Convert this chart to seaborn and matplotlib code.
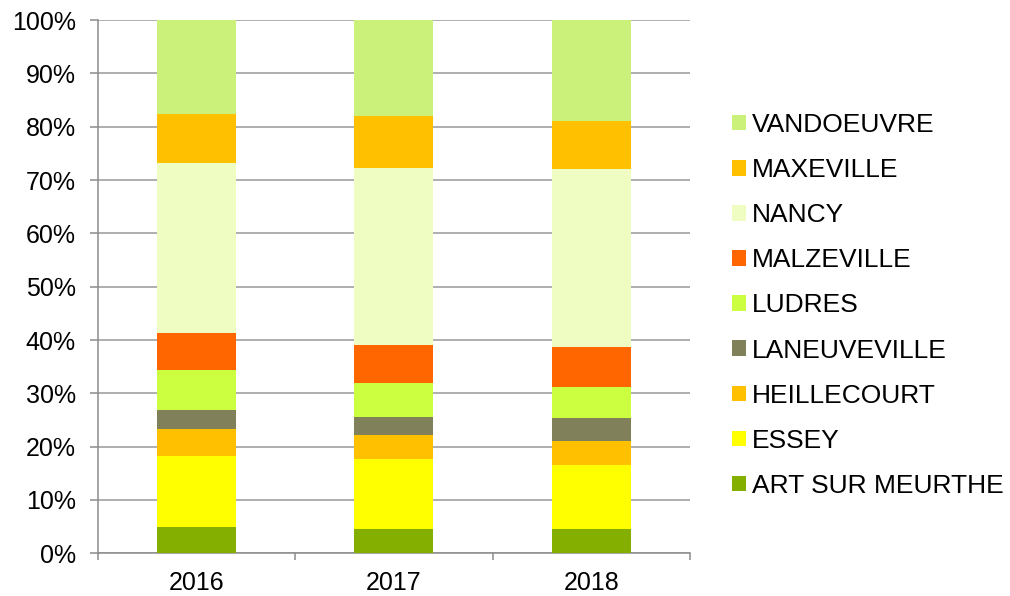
import numpy as np
import pandas as pd
import matplotlib.pyplot as plt
import matplotlib.patches as mpatches
import seaborn as sns

years = ["2016", "2017", "2018"]
communes = ["ART SUR MEURTHE", "ESSEY", "HEILLECOURT", "LANEUVEVILLE", "LUDRES",
            "MALZEVILLE", "NANCY", "MAXEVILLE", "VANDOEUVRE"]
# share of each commune per year (%)
art_sur_meurthe = [5.0, 4.6, 4.6]
essey = [13.3, 13.0, 11.9]
heillecourt = [4.95, 4.5, 4.6]
laneuveville = [3.55, 3.5, 4.2]
ludres = [7.6, 6.3, 5.8]
malzeville = [7.0, 7.2, 7.6]
nancy = [31.7, 33.1, 33.3]
maxeville = [9.3, 9.8, 9.0]
vandoeuvre = [17.6, 18.0, 19.0]
colors = ["#84AE00", "#FFFF00", "#FFC000", "#80805A", "#CCFF40",
          "#FF6600", "#EFFDC3", "#FFC000", "#CCF17A"]

sns.set_style("white")
plt.rcParams["font.family"] = ["Liberation Sans", "DejaVu Sans"]
plt.rcParams["text.color"] = "black"
plt.rcParams["xtick.color"] = "black"
plt.rcParams["ytick.color"] = "black"

df = pd.DataFrame([art_sur_meurthe, essey, heillecourt, laneuveville, ludres,
                   malzeville, nancy, maxeville, vandoeuvre],
                  index=communes, columns=years)
# normalise to 100 % and stack
df = df / df.sum() * 100
cum = df.cumsum()

fig = plt.figure(figsize=(10.1, 5.96), dpi=100)
ax = fig.add_axes([0.097, 0.0716, 0.586, 0.8948])

# draw from the top of the stack down so each layer covers the one above
for name, color in reversed(list(zip(communes, colors))):
    sns.barplot(x=years, y=cum.loc[name].values, color=color, width=0.4,
                saturation=1, linewidth=0, ax=ax, zorder=3)

ax.set_ylim(0, 100)
ax.set_xlim(-0.5, 2.5)
ax.set_yticks(np.arange(0, 101, 10))
ax.set_yticklabels(["{}%".format(v) for v in range(0, 101, 10)])
ax.yaxis.grid(True, color="#999999", linewidth=1.1, zorder=0)
ax.set_axisbelow(True)
ax.set_xticks([-0.5, 0.5, 1.5, 2.5], minor=True)

for side in ["top", "right"]:
    ax.spines[side].set_visible(False)
for side in ["left", "bottom"]:
    ax.spines[side].set_color("#8c8c8c")
    ax.spines[side].set_linewidth(1.1)

ax.tick_params(axis="y", which="major", length=6, color="#8c8c8c", width=1.1,
               labelsize=18, labelcolor="black", pad=10, left=True)
ax.tick_params(axis="x", which="major", length=0, labelsize=18,
               labelcolor="black", pad=13)
ax.tick_params(axis="x", which="minor", length=5, color="#8c8c8c", width=1.1,
               bottom=True)
ax.set_xlabel("")
ax.set_ylabel("")

# legend, VANDOEUVRE on top
handles = []
for name, color in reversed(list(zip(communes, colors))):
    handles.append(mpatches.Patch(facecolor=color, edgecolor="none", label=name))
fig.legend(handles=handles, loc="center left", bbox_to_anchor=(732 / 1010, 0.4875),
           frameon=False, fontsize=19, handlelength=0.53, handleheight=0.53,
           handletextpad=0.24, labelspacing=0.8, borderpad=0, borderaxespad=0)

plt.savefig("out.png", dpi=100)
